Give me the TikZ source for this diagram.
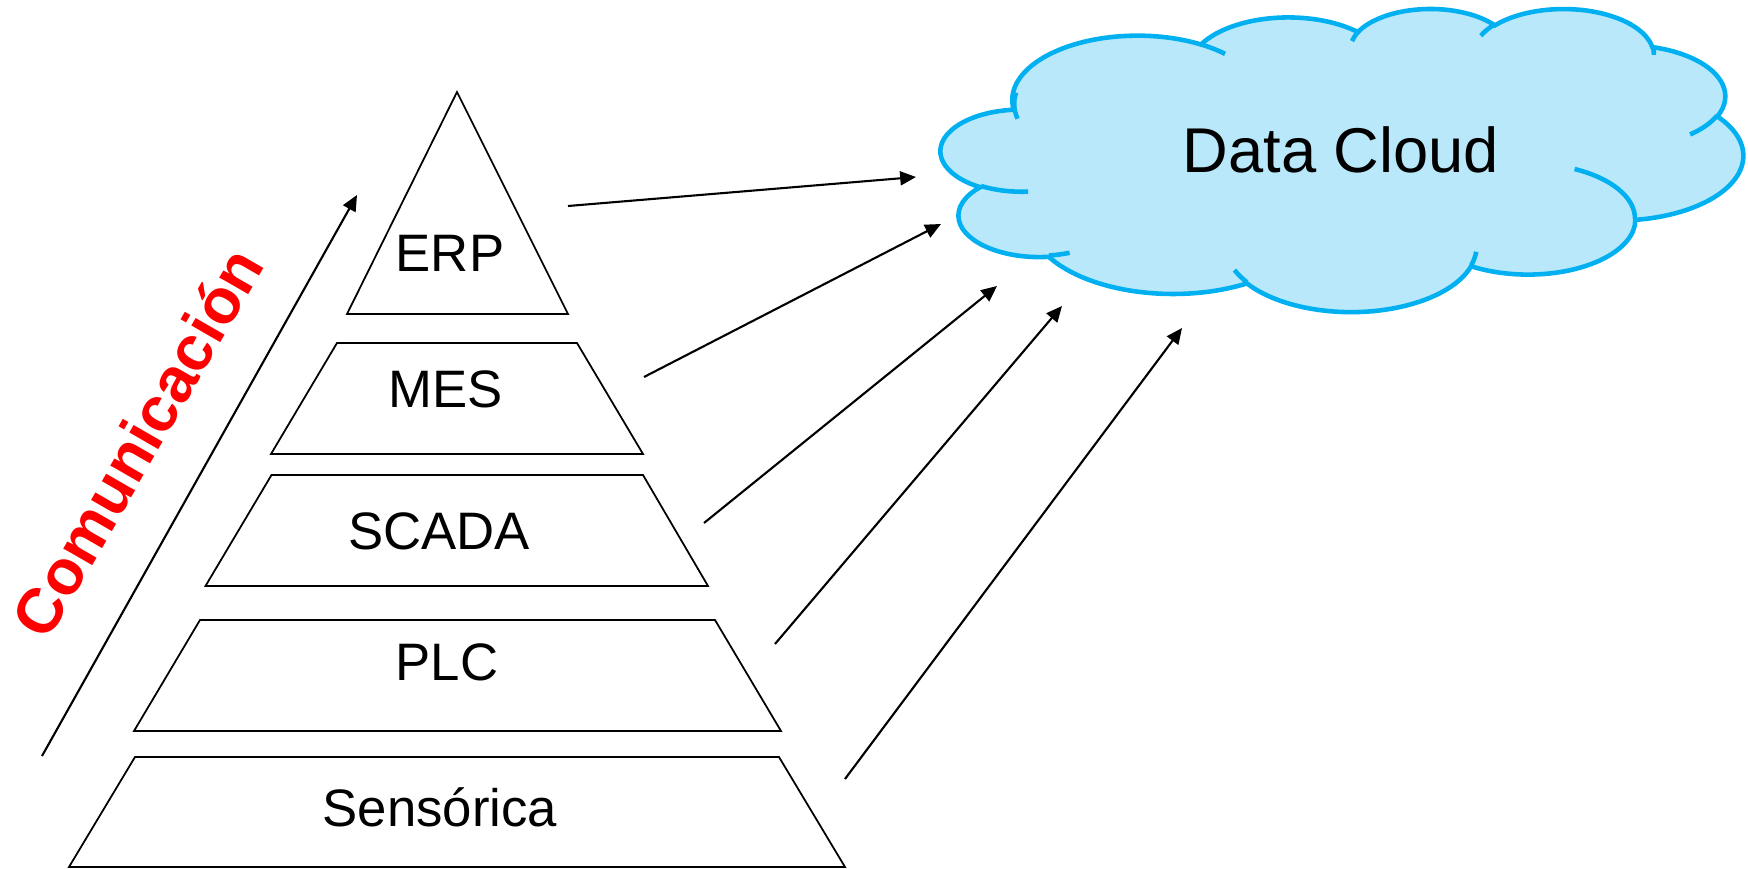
\documentclass[tikz,border=0pt]{standalone}
\usepackage{fontspec}
\setmainfont{Liberation Sans}
\usetikzlibrary{arrows.meta}

\definecolor{cloudblue}{RGB}{0,176,240}
\definecolor{cloudfill}{RGB}{185,232,250}
\definecolor{commred}{RGB}{255,0,0}

% ellipse arc angles given as seen, turned into parameter angles
\pgfmathdeclarefunction{cloudang}{3}{%
  \begingroup
  \pgfmathparse{atan2((#1)*sin(#3),(#2)*cos(#3))}%
  \pgfmathsmuggle\pgfmathresult
  \endgroup}
\pgfmathdeclarefunction{cloudsweep}{4}{%
  \begingroup
  \pgfmathparse{mod(cloudang(#1,#2,#3+#4)-cloudang(#1,#2,#3)+720,360)}%
  \pgfmathsmuggle\pgfmathresult
  \endgroup}

\tikzset{
  layer/.style={draw, line width=0.5pt, line join=miter},
  layertext/.style={font=\fontsize{15}{18}\selectfont, inner sep=0pt},
  feed/.style={->, line width=0.6pt},
  cloudline/.style={draw=cloudblue, line width=1.3pt},
}

\begin{document}
\begin{tikzpicture}[>={Triangle[length=4.5pt,width=4pt]}]

\useasboundingbox (0,0) rectangle (17.48,-8.69);

% pyramid
\draw[layer] (4.57,-0.92) -- (5.68,-3.14) -- (3.47,-3.14) -- cycle;
\draw[layer] (3.37,-3.43) -- (5.77,-3.43) -- (6.43,-4.54) -- (2.71,-4.54) -- cycle;
\draw[layer] (2.715,-4.75) -- (6.43,-4.75) -- (7.08,-5.86) -- (2.055,-5.86) -- cycle;
\draw[layer] (2.00,-6.20) -- (7.15,-6.20) -- (7.81,-7.31) -- (1.34,-7.31) -- cycle;
\draw[layer] (1.35,-7.57) -- (7.79,-7.57) -- (8.45,-8.67) -- (0.69,-8.67) -- cycle;

\node[layertext] (erp) at (4.50,-2.53) {ERP};
\node[layertext] (mes) at (4.46,-3.89) {MES};
\node[layertext] (scada) at (4.39,-5.31) {SCADA};
\node[layertext] (plc) at (4.47,-6.62) {PLC};
\node[layertext] (sens) at (4.40,-8.07) {Sensórica};

% cloud
\begin{scope}[shift={(9.41,-0.08)}, x=0.18565cm, y=-0.070139cm]
\filldraw[cloudline, fill=cloudfill] (3.900,14.370)
  \foreach \w/\h/\s/\d in {6.753/9.190/-190.48748/123.78053,
      5.333/7.267/-144.10238/89.94523, 4.365/5.945/-145.80792/99.72302,
      4.857/6.595/-130.98607/117.24173, 5.333/7.273/-78.70888/109.02692,
      6.775/9.220/-46.26725/130.269, 5.785/7.867/0.62502/114.03333,
      6.752/9.215/22.4516/115.17255, 7.720/10.543/66.24263/75.71102,
      4.360/5.918/-274.94208/146.73557, 4.345/5.945/-246.8285/152.51885}
  { arc[start angle={cloudang(\w,\h,\s)}, delta angle={cloudsweep(\w,\h,\s,\d)},
        x radius=\w, y radius=\h] } -- cycle;
\foreach \px/\py/\w/\h/\s/\d in {4.693/26.177/4.345/5.945/86.742/26.4295,
    6.928/34.899/4.360/5.918/73.61047/11.44747,
    16.478/39.090/6.752/9.215/137.62415/14.0811,
    28.827/34.751/6.752/9.215/6.45327/15.99835,
    34.129/22.954/5.785/7.867/-70.29235/70.91737,
    41.798/15.354/5.333/7.273/30.31803/27.7515,
    38.324/5.426/4.857/6.595/-13.74433/14.8589,
    29.078/3.952/4.857/6.595/-149.18145/18.19537,
    22.141/4.720/4.365/5.945/-163.49427/17.84925,
    14.000/5.192/6.753/9.190/-66.70695/12.31935,
    4.127/15.789/6.753/9.190/162.04627/31.4522}
  \draw[cloudline] (\px,\py) arc[start angle={cloudang(\w,\h,\s)},
      delta angle={cloudsweep(\w,\h,\s,\d)}, x radius=\w, y radius=\h];
\end{scope}

\node[font=\fontsize{18}{22}\selectfont, inner sep=0pt] (cloud) at (13.41,-1.50) {Data Cloud};

% arrows to the cloud
\coordinate (erp out) at (5.68,-2.06);
\coordinate (mes out) at (6.44,-3.77);
\coordinate (scada out) at (7.04,-5.23);
\coordinate (plc out) at (7.75,-6.44);
\coordinate (sens out) at (8.45,-7.79);

\coordinate (erp in) at (9.16,-1.77);
\coordinate (mes in) at (9.41,-2.24);
\coordinate (scada in) at (9.97,-2.86);
\coordinate (plc in) at (10.62,-3.06);
\coordinate (sens in) at (11.82,-3.28);

\draw[feed] (erp out) -- (erp in);
\draw[feed] (mes out) -- (mes in);
\draw[feed] (scada out) -- (scada in);
\draw[feed] (plc out) -- (plc in);
\draw[feed] (sens out) -- (sens in);

% communication
\coordinate (a) at (0.42,-7.56);
\coordinate (b) at (3.57,-1.95);
\draw[feed] (a) -- (b);
\node[rotate=60, text=commred, font=\fontsize{18}{22}\selectfont\bfseries, inner sep=0pt] (comm) at (1.37,-4.42) {Comunicación};

\end{tikzpicture}
\end{document}
